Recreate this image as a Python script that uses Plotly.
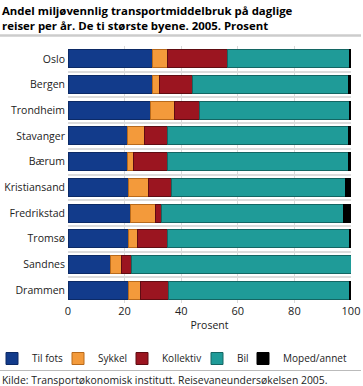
import plotly.graph_objects as go

cities = ["Oslo", "Bergen", "Trondheim", "Stavanger", "Bærum", "Kristiansand",
          "Fredrikstad", "Tromsø", "Sandnes", "Drammen"]
til_fots = [30, 30, 29, 21, 21, 21.5, 22, 21.5, 15, 21.5]
sykkel = [5, 2.5, 8.5, 6, 2, 7, 9, 3, 4, 4]
kollektiv = [21.5, 11.5, 9, 8, 12, 8, 2, 10.5, 3.5, 10]
bil = [43, 55, 53, 64, 64, 61.5, 64.5, 64.5, 77.5, 64]
moped = [0.5, 1, 0.5, 1, 1, 2, 2.5, 0.5, 0, 0.5]
xticks = [0, 20, 40, 60, 80, 100]

series = [
    ("Til fots", til_fots, "#123b8b", "#0c2a66", 21),
    ("Sykkel", sykkel, "#f39a3b", "#b86a1c", 19),
    ("Kollektiv", kollektiv, "#9b1520", "#600c12", 30),
    ("Bil", bil, "#1f9b98", "#146663", 1),
    ("Moped/annet", moped, "#000000", "#000000", 59),
]

fig = go.Figure()
for name, vals, col, lcol, lw in series:
    fig.add_trace(go.Bar(
        y=cities, x=vals, name=name, orientation="h", legendwidth=lw,
        marker=dict(color=col, line=dict(color=lcol, width=1)),
    ))

# invisible trace on secondary axis to draw category-boundary gridlines
fig.add_trace(go.Scatter(x=[None], y=[None], yaxis="y2", showlegend=False, hoverinfo="skip"))

W, H = 363, 386
L, R, T, B = 68, 12, 46, 83
pw, ph = W - L - R, H - T - B

font_family = "Open Sans, DejaVu Sans, sans-serif"
fig.update_layout(
    width=W, height=H,
    barmode="stack", bargap=0.3,
    paper_bgcolor="white", plot_bgcolor="white",
    margin=dict(l=L, r=R, t=T, b=B, autoexpand=False),
    font=dict(family=font_family, size=10.5, color="#222"),
    showlegend=True,
    legend=dict(orientation="h", x=-(L + 8) / pw, xanchor="left", y=-41 / ph, yanchor="top",
                font=dict(size=10), traceorder="normal", borderwidth=0,
                bgcolor="rgba(0,0,0,0)"),
    xaxis=dict(range=[0, 100], tickvals=xticks, showgrid=True, gridcolor="#d9d9d9",
               gridwidth=1, zeroline=False, showline=False, ticks="", automargin=False,
               tickfont=dict(size=11, color="#222"),
               title=dict(text="Prosent", font=dict(size=10.5), standoff=4)),
    yaxis=dict(autorange="reversed", showgrid=False, ticks="", showline=False,
               automargin=False,
               tickfont=dict(size=10.5, color="#222"), ticklabelstandoff=2),
    yaxis2=dict(overlaying="y", range=[len(cities) - 0.5, -0.5], tick0=0.5, dtick=1,
                showgrid=True, gridcolor="#dcdcdc", gridwidth=2, showticklabels=False,
                zeroline=False, ticks="", side="right", automargin=False),
    annotations=[
        dict(text="Andel miljøvennlig transportmiddelbruk på daglige<br>reiser per år. De ti største byene. 2005. Prosent",
             xref="paper", yref="paper", x=-L / pw, y=1 + 45 / ph, xanchor="left", yanchor="top",
             align="left", showarrow=False,
             font=dict(size=11.4, family=font_family, color="#000", weight="bold")),
        dict(text="Kilde: Transportøkonomisk institutt. Reisevaneundersøkelsen 2005.",
             xref="paper", yref="paper", x=-L / pw, y=-77 / ph, xanchor="left", yanchor="middle",
             align="left", showarrow=False, font=dict(size=10.4, color="#222")),
    ],
    shapes=[
        dict(type="line", xref="paper", yref="paper", x0=-L / pw, x1=1 + 10 / pw,
             y0=1 + 10.5 / ph, y1=1 + 10.5 / ph, line=dict(color="#cccccc", width=2.5)),
        dict(type="line", xref="paper", yref="paper", x0=-L / pw, x1=1 + 10 / pw,
             y0=-67.5 / ph, y1=-67.5 / ph, line=dict(color="#bbbbbb", width=1)),
    ],
)
fig.write_html("out.html", config={"displayModeBar": False},
               post_script="document.body.style.margin='0px';")
